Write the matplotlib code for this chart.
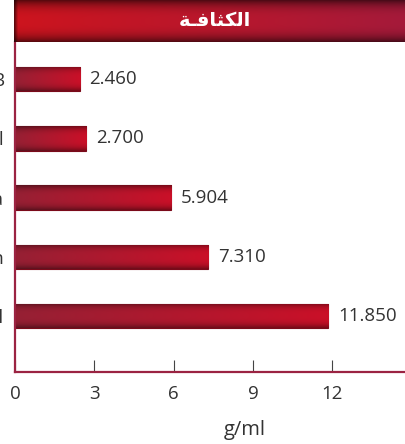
import numpy as np
import matplotlib
matplotlib.use("Agg")
import matplotlib.pyplot as plt

elements = ["Tl", "In", "Ga", "Al", "B"]
density = [11.850, 7.310, 5.904, 2.700, 2.460]
x_ticks = [0, 3, 6, 9, 12]
x_label = "g/ml"
# "الكثافـة" written with Arabic presentation forms in visual order
title_text = "\uFE94\u0640\uFED3\uFE8E\uFE9C\uFEDC\uFEDF\uFE8D"

plt.rcParams['font.family'] = ['Open Sans', 'DejaVu Sans']
TXT = '#333333'
SPINE = '#9b2342'


def gradient(left, right, edge=0.55, nx=64, ny=32):
    t = np.linspace(0, 1, nx)
    row = np.outer(1 - t, left) + np.outer(t, right)
    v = np.linspace(-1, 1, ny)
    prof = 1 - (1 - edge) * np.abs(v) ** 3
    img = prof[:, None, None] * row[None, :, :] / 255.0
    return np.clip(img, 0, 1)


fig = plt.figure(figsize=(4.05, 4.44), dpi=100)
ax = fig.add_axes([15 / 405, 72 / 444, 1 - 15 / 405, 330 / 444])

ypos = np.arange(len(elements))
bars = ax.barh(ypos, density, height=0.41, color='#b01830',
               edgecolor='#7a0a1a', linewidth=0.8, zorder=2)
grad = gradient((150, 32, 52), (202, 16, 40), edge=0.6)
for b in bars:
    x0, y0 = b.get_x(), b.get_y()
    w, h = b.get_width(), b.get_height()
    im = ax.imshow(grad, extent=[x0, x0 + w, y0, y0 + h], aspect='auto',
                   origin='upper', zorder=2.5, interpolation='bilinear')
    im.set_clip_path(b)

for y, v in zip(ypos, density):
    ax.text(v + 0.36, y, f"{v:.3f}", va='center', ha='left',
            fontsize=13.5, color=TXT)

ax.set_xlim(0, 14.75)
ax.set_ylim(-0.95, 4.63)
ax.set_xticks(x_ticks)
ax.set_yticks(ypos)
ax.set_yticklabels(elements)
ax.tick_params(axis='y', length=0, pad=8, labelsize=13.5, labelcolor=TXT)
ax.tick_params(axis='x', direction='in', length=8.5, width=0.8,
               color='#444444', pad=9, labelsize=13.5, labelcolor=TXT)
ax.set_xlabel(x_label, fontsize=14.5, color=TXT)
ax.xaxis.set_label_coords(0.59, -0.176)
ax.xaxis.label.set_va('center')

for s in ['top', 'right']:
    ax.spines[s].set_visible(False)
for s in ['left', 'bottom']:
    ax.spines[s].set_color(SPINE)
    ax.spines[s].set_linewidth(1.6)

# header banner
hax = fig.add_axes([14 / 405, 1 - 42 / 444, 1 - 14 / 405, 42 / 444])
hgrad = gradient((205, 20, 30), (165, 26, 58), edge=0.45, nx=390, ny=42)
hgrad[:, :4] *= np.array([0.45, 0.6, 0.75, 0.9])[None, :, None]
hax.imshow(hgrad, extent=[0, 1, 0, 1], aspect='auto', interpolation='bilinear')
hax.set_xlim(0, 1)
hax.set_ylim(0, 1)
hax.axis('off')
hax.text(0.515, 0.52, title_text, ha='center', va='center', fontsize=14,
         fontweight='bold', color='white', family='DejaVu Sans')

fig.savefig("out.png", dpi=100)
